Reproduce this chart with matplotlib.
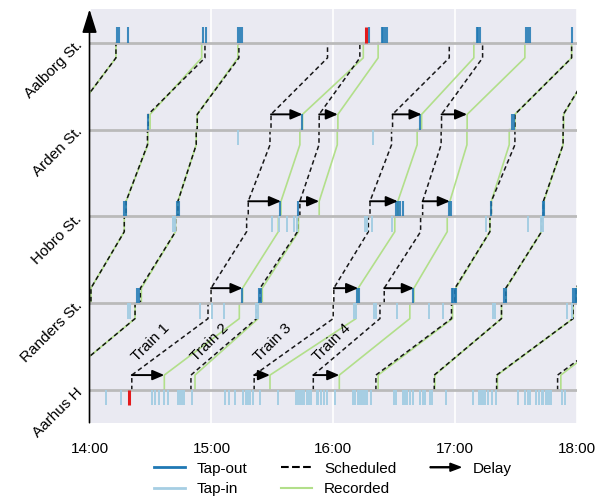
import matplotlib
matplotlib.use("Agg")
import matplotlib.pyplot as plt
import matplotlib.patches as mpatches
from matplotlib.legend_handler import HandlerPatch
from matplotlib.lines import Line2D
import numpy as np

plt.rcParams["font.family"] = ["Liberation Sans", "DejaVu Sans"]
plt.rcParams["font.size"] = 11

STATIONS = ["Aarhus H", "Randers St.", "Hobro St.", "Arden St.", "Aalborg St."]
HOUR_TICKS = [14, 15, 16, 17, 18]
HOUR_LABELS = ["14:00", "15:00", "16:00", "17:00", "18:00"]

# minutes after 14:00, one (arrival, departure) pair per station, Aarhus -> Aalborg
SCHEDULED = [
    [(-95, -95), (-58, -56), (-38, -37), (-9, -7.8), (13, 13)],
    [(-38, -38), (-1, 0.7), (17.1, 18.0), (28.5, 28.9), (56.8, 56.8)],
    [(-11, -11), (22.4, 25.0), (42.3, 43.5), (52.5, 53.0), (73.5, 73.5)],
    [(20.8, 20.8), (58.3, 59.8), (77.3, 78.1), (88.8, 89.3), (117.1, 117.1)],
    [(49.9, 49.9), (82.2, 83.9), (102.3, 103.5), (112.9, 113.0), (133.0, 133.0)],
    [(81.0, 81.0), (119.9, 120.2), (137.2, 138.0), (148.6, 149.1), (177.0, 177.0)],
    [(110.1, 110.1), (142.9, 145.0), (162.9, 163.9), (173.0, 173.2), (193.4, 193.4)],
    [(140.9, 140.9), (178.1, 179.8), (197.0, 197.7), (209.3, 209.3), (237.2, 237.2)],
    [(169.6, 169.6), (202.7, 204.8), (222.4, 223.3), (233.0, 233.1), (250, 250)],
    [(200.3, 200.3), (237.9, 239.3), (257, 258), (268, 269), (290, 290)],
    [(230.3, 230.3), (268, 270), (288, 289), (299, 300), (322, 322)],
]
RECORDED = [
    [(-95, -95), (-58, -56), (-38, -37), (-9, -7.8), (13, 13)],
    [(-38, -38), (-1, 0.7), (17.1, 18.0), (28.7, 29.8), (55.2, 55.2)],
    [(-11, -11), (22.4, 25.5), (42.3, 43.5), (52.5, 53.0), (73.0, 73.0)],
    [(36.8, 36.8), (73.7, 75.3), (92.9, 94.2), (103.5, 104.8), (134.7, 134.7)],
    [(51.9, 51.9), (83.0, 85.0), (102.8, 113.0), (121.9, 122.2), (142.0, 142.0)],
    [(88.8, 88.8), (131.1, 132.2), (150.2, 151.7), (161.2, 163.4), (189.1, 189.1)],
    [(122.9, 122.9), (157.6, 159.6), (176.0, 177.3), (185.7, 185.8), (214.2, 214.2)],
    [(142.0, 142.0), (178.6, 180.2), (197.0, 197.7), (206.5, 209.3), (237.2, 237.2)],
    [(169.9, 169.9), (202.7, 205.0), (222.4, 223.5), (233.0, 233.3), (250, 250)],
    [(200.7, 200.7), (237.9, 239.8), (258, 259), (269, 270), (291, 291)],
    [(231.9, 231.9), (268, 270), (288, 289), (299, 300), (322, 322)],
]
TRAIN_NAMES = ["", "", "", "Train 1", "Train 2", "Train 3", "Train 4", "", "", "", ""]

# smart-card taps (minutes after 14:00), one list per station
TAP_IN = [
    [8.0, 15.3, 30.6, 32.2, 34.2, 36.8, 38.5, 43.4, 44.5, 45.6, 46.6, 50.6, 66.6,
     68.8, 71.6, 75.6, 76.8, 77.6, 78.1, 78.9, 80.6, 83.9, 92.9, 101.4, 102.7,
     103.5, 104.7, 105.6, 106.8, 108.0, 109.0, 111.7, 112.5, 113.9, 115.5, 116.7,
     120.7, 129.4, 130.6, 132.2, 132.7, 133.4, 134.2, 135.0, 136.0, 136.6, 138.3,
     149.8, 150.7, 154.0, 155.2, 156.3, 157.6, 159.0, 162.5, 163.9, 165.0, 167.5,
     168.3, 175.3, 188.5, 191.6, 192.4, 193.4, 194.5, 196.1, 197.8, 199.8, 210.9,
     214.2, 215.8, 216.6, 219.9, 221.2, 222.4, 223.2, 224.5, 225.2, 226.1, 227.0,
     232.7, 233.8],
    [18.8, 19.8, 54.3, 60.1, 66.1, 81.7, 82.7, 130.1, 131.1, 140.1, 140.9, 151.5,
     167.1, 173.7, 198.7, 199.7, 234.8, 237.2],
    [41.2, 42.0, 89.6, 93.3, 97.3, 100.6, 101.9, 135.5, 136.6, 138.8, 148.6, 195.3,
     215.8, 221.9, 222.9],
    [73.2, 139.6],
    [],
]
TAP_OUT = [
    [],
    [23.6, 24.3, 75.0, 83.6, 84.2, 131.8, 132.5, 159.0, 178.3, 179.0, 179.8, 180.2,
     204.1, 204.8, 237.8, 238.8, 239.5],
    [17.2, 18.0, 43.0, 44.0, 93.7, 102.7, 150.7, 151.7, 153.0, 154.3, 177.1, 177.8,
     197.7, 223.0, 223.8],
    [28.9, 104.7, 162.5, 207.8, 208.8],
    [13.6, 14.6, 19.1, 56.0, 57.1, 73.0, 74.0, 74.8, 137.6, 143.7, 144.6, 145.3,
     146.2, 190.7, 191.3, 192.3, 215.0, 215.6, 216.6, 237.6],
]
# one passenger followed through the network: (station, minute)
TRACKED_IN = (0, 19.6)
TRACKED_OUT = (4, 135.8)

D = 0.175          # half height of a station stop
MIN_DELAY = 5      # minutes before a delay arrow is drawn
C_OUT, C_IN, C_REC, C_RED = "#1f78b4", "#a6cee3", "#b2df8a", "#e31a1c"


def hours(m):
    return 14 + np.asarray(m, dtype=float) / 60


def train_path(stops):
    xs, ys = [], []
    last = len(stops) - 1
    for i, (arr, dep) in enumerate(stops):
        if i > 0:
            xs += [arr, arr]
            ys += [i - D, i]
        if i < last:
            xs += [dep, dep]
            ys += [i, i + D]
    return hours(xs), np.array(ys)


def arrow_handle(legend, orig_handle, xdescent, ydescent, width, height, fontsize):
    return mpatches.FancyArrow(-xdescent, height / 2 - ydescent, width, 0, width=0.7,
                               head_width=height * 0.75, head_length=width * 0.35,
                               length_includes_head=True)


fig = plt.figure(figsize=(5.98, 4.99), dpi=100)
ax = fig.add_axes([0.1497, 0.1529, 0.8157, 0.8285])
ax.set_facecolor("#eaeaf2")
for sp in ax.spines.values():
    sp.set_visible(False)
ax.grid(axis="x", color="white", lw=1.2)
ax.set_axisbelow(True)

for s in range(len(STATIONS)):
    ax.axhline(s, color="#bababa", lw=2, zorder=3.5)

for sched, rec in zip(SCHEDULED, RECORDED):
    x, y = train_path(rec)
    ax.plot(x, y, color=C_REC, lw=1.2, zorder=2)
    x, y = train_path(sched)
    ax.plot(x, y, color="k", lw=1.1, ls=(0, (3, 2)), alpha=0.9, zorder=3)
    for s in range(len(STATIONS) - 1):
        t0, t1 = sched[s][1], rec[s][1]
        if t1 - t0 > MIN_DELAY:
            ax.annotate("", xy=(hours(t1), s + D), xytext=(hours(t0), s + D),
                        arrowprops=dict(arrowstyle="-|>,head_length=0.7,head_width=0.3",
                                        color="k", lw=1.4, shrinkA=0, shrinkB=0,
                                        mutation_scale=10), zorder=6)

for name, sched in zip(TRAIN_NAMES, SCHEDULED):
    if name:
        ax.text(hours(sched[0][1] + 9.3), 0.55, name, rotation=45,
                ha="center", va="center", zorder=6)

for s in range(len(STATIONS)):
    if TAP_IN[s]:
        ax.vlines(hours(TAP_IN[s]), s - D, s, color=C_IN, lw=1.4, zorder=5)
    if TAP_OUT[s]:
        ax.vlines(hours(TAP_OUT[s]), s, s + D, color=C_OUT, lw=1.5, alpha=0.85, zorder=5)
ax.vlines(hours(TRACKED_IN[1]), TRACKED_IN[0] - D, TRACKED_IN[0], color=C_RED, lw=2.2, zorder=5.5)
ax.vlines(hours(TRACKED_OUT[1]), TRACKED_OUT[0], TRACKED_OUT[0] + D, color=C_RED, lw=2.2, zorder=5.5)

ax.set_xlim(14, 18)
ax.set_ylim(-0.373, 4.384)
ax.set_xticks(HOUR_TICKS, HOUR_LABELS)
ax.set_yticks(range(len(STATIONS)))
ax.set_yticklabels(STATIONS, rotation=45, ha="right", va="center", rotation_mode="anchor")
ax.tick_params(axis="both", length=0)
ax.tick_params(axis="x", pad=14)
ax.tick_params(axis="y", pad=7)

# y axis drawn as an arrow
ax.annotate("", xy=(0, 1.0), xytext=(0, 0), xycoords="axes fraction",
            arrowprops=dict(arrowstyle="-|>,head_length=0.8,head_width=0.25", color="k",
                            lw=1.2, shrinkA=0, shrinkB=0, mutation_scale=18),
            annotation_clip=False, zorder=7)

delay_proxy = mpatches.FancyArrow(0, 0, 1, 0, color="k")
handles = [Line2D([], [], color=C_OUT, lw=2), Line2D([], [], color=C_IN, lw=2),
           Line2D([], [], color="k", lw=1.5, ls="--"), Line2D([], [], color=C_REC, lw=1.5),
           delay_proxy]
labels = ["Tap-out", "Tap-in", "Scheduled", "Recorded", "Delay"]
fig.legend(handles, labels, loc="center", bbox_to_anchor=(0.557, 0.04), ncol=3,
           frameon=False, handlelength=2, columnspacing=2.2, labelspacing=0.45,
           handler_map={delay_proxy: HandlerPatch(patch_func=arrow_handle)})

fig.savefig("out.png", dpi=100)
